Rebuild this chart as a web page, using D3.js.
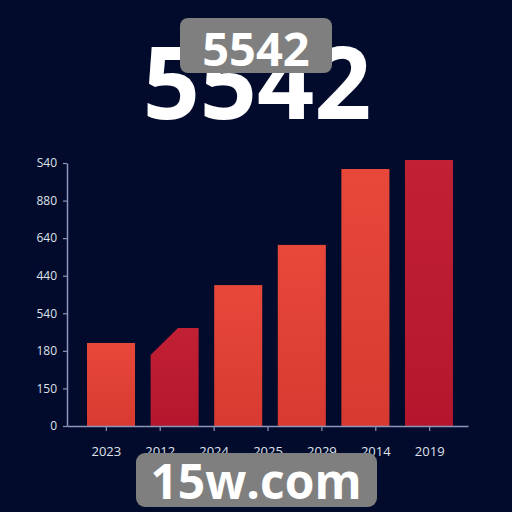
<!DOCTYPE html>
<html>
<head>
<meta charset="utf-8">
<script src="https://cdn.jsdelivr.net/npm/d3@7/dist/d3.min.js"></script>
<style>
  html, body { margin: 0; padding: 0; background: #020b2b; }
  svg { display: block; }
</style>
</head>
<body>
<svg id="chart" width="512" height="512"></svg>
<script>
// ---- data ----
const xLabels = ["2023", "2012", "2024", "2025", "2029", "2014", "2019"];
const barValues = [221, 261, 375, 482, 684, 708];
const barCornerValues = [null, 189, null, null, null, null]; // bar 2 has a cut top-left corner
const barTones = ["bright", "deep", "bright", "bright", "bright", "deep"];
const yTickValues = [0, 100, 200, 300, 400, 500, 600, 700];
const yTickLabels = ["0", "150", "180", "540", "440", "640", "880", "S40"];
const titleText = "5542";
const badgeText = "5542";
const footerText = "15w.com";

// ---- layout ----
const W = 512, H = 512;
const plot = { left: 67, right: 468, top: 163, bottom: 426 };
const barRange = [87, 453];

const svg = d3.select("#chart");
svg.append("rect").attr("width", W).attr("height", H).attr("fill", "#020b2b");

const defs = svg.append("defs");
const gBright = defs.append("linearGradient").attr("id", "gBright").attr("x1", 0).attr("y1", 0).attr("x2", 0).attr("y2", 1);
gBright.append("stop").attr("offset", "0%").attr("stop-color", "#e8483a");
gBright.append("stop").attr("offset", "100%").attr("stop-color", "#d83a31");
const gDeep = defs.append("linearGradient").attr("id", "gDeep").attr("x1", 0).attr("y1", 0).attr("x2", 0).attr("y2", 1);
gDeep.append("stop").attr("offset", "0%").attr("stop-color", "#c22034");
gDeep.append("stop").attr("offset", "100%").attr("stop-color", "#b4172d");

// ---- scales ----
const y = d3.scaleLinear().domain([0, 700]).range([plot.bottom, plot.top]);
const xAxisScale = d3.scalePoint().domain(xLabels).range([plot.left, plot.right]).padding(0.72);
const xBar = d3.scaleBand().domain(d3.range(barValues.length)).range(barRange).paddingInner(0.245).paddingOuter(0);

// ---- title ----
svg.append("text")
  .attr("x", 257).attr("y", 119)
  .attr("text-anchor", "middle")
  .attr("font-family", "'Open Sans', sans-serif")
  .attr("font-weight", 700)
  .attr("font-size", 100)
  .attr("fill", "#ffffff")
  .text(titleText);

// badge
svg.append("rect").attr("x", 180).attr("y", 18).attr("width", 152).attr("height", 55).attr("rx", 8)
  .attr("fill", "#7f7f7f");
svg.append("text")
  .attr("x", 256).attr("y", 66)
  .attr("text-anchor", "middle")
  .attr("font-family", "'Open Sans', sans-serif")
  .attr("font-weight", 700)
  .attr("font-size", 47)
  .attr("fill", "#ffffff")
  .text(badgeText);

// ---- bars ----
const bars = svg.append("g");
barValues.forEach((v, i) => {
  const x0 = xBar(i), x1 = xBar(i) + xBar.bandwidth();
  const fill = barTones[i] === "bright" ? "url(#gBright)" : "url(#gDeep)";
  const c = barCornerValues[i];
  if (c == null) {
    bars.append("rect")
      .attr("x", x0).attr("y", y(v))
      .attr("width", xBar.bandwidth()).attr("height", y(0) - y(v))
      .attr("fill", fill);
  } else {
    const cutX = x0 + xBar.bandwidth() * 0.57;
    const p = d3.path();
    p.moveTo(x0, y(0));
    p.lineTo(x0, y(c));
    p.lineTo(cutX, y(v));
    p.lineTo(x1, y(v));
    p.lineTo(x1, y(0));
    p.closePath();
    bars.append("path").attr("d", p.toString()).attr("fill", fill);
  }
});

// ---- axes ----
const axisColor = "#8d96b8";
const labelColor = "#dfe2ec";

const yAxis = svg.append("g")
  .attr("transform", `translate(${plot.left},0)`)
  .call(d3.axisLeft(y).tickValues(yTickValues).tickFormat((d, i) => yTickLabels[i]).tickSize(4).tickSizeOuter(0).tickPadding(6));
yAxis.select(".domain").attr("stroke", axisColor).attr("stroke-width", 1.5);
yAxis.selectAll(".tick line").attr("stroke", axisColor).attr("stroke-width", 1.2);
yAxis.selectAll(".tick text").attr("fill", labelColor)
  .attr("font-family", "'Open Sans', sans-serif").attr("font-size", 12);

const xAxis = svg.append("g")
  .attr("transform", `translate(0,${plot.bottom})`)
  .call(d3.axisBottom(xAxisScale).tickSize(5).tickSizeOuter(0).tickPadding(16));
xAxis.select(".domain").attr("stroke", axisColor).attr("stroke-width", 1.5);
xAxis.selectAll(".tick line").attr("stroke", axisColor).attr("stroke-width", 1.2);
xAxis.selectAll(".tick text").attr("fill", labelColor)
  .attr("font-family", "'Open Sans', sans-serif").attr("font-size", 13);

// ---- footer badge ----
svg.append("rect").attr("x", 136).attr("y", 453).attr("width", 241).attr("height", 54).attr("rx", 9)
  .attr("fill", "#7f7f7f");
svg.append("text")
  .attr("x", 256).attr("y", 499)
  .attr("text-anchor", "middle")
  .attr("font-family", "'Open Sans', sans-serif")
  .attr("font-weight", 700)
  .attr("font-size", 48)
  .attr("fill", "#ffffff")
  .text(footerText);
</script>
</body>
</html>
